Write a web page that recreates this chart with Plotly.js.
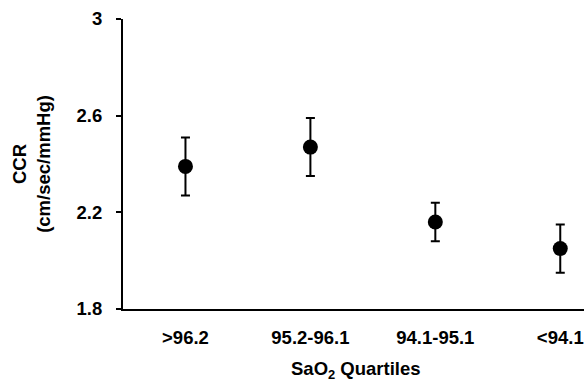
<!DOCTYPE html>
<html>
<head>
<meta charset="utf-8">
<script src="https://cdn.plot.ly/plotly-3.0.1.min.js"></script>
<style>html,body{margin:0;padding:0;background:#fff;}#chart{width:586px;height:383px;}</style>
</head>
<body>
<div id="chart"></div>
<script>
var categories = [">96.2", "95.2-96.1", "94.1-95.1", "<94.1"];
var ccrMean = [2.39, 2.47, 2.16, 2.05];
var errPlus = [0.12, 0.12, 0.08, 0.10];
var errMinus = [0.12, 0.12, 0.08, 0.10];
var yTicks = [1.8, 2.2, 2.6, 3];
var yTickLabels = ["1.8", "2.2", "2.6", "3"];
var xTitle = "SaO<sub>2</sub> Quartiles";
var yTitle = "CCR<br>(cm/sec/mmHg)";

var fam = "Liberation Sans, Arial, sans-serif";
var boldFont = {family: fam, size: 18.5, color: "#000", weight: "bold"};

var trace = {
  x: [0, 1, 2, 3],
  y: ccrMean,
  type: "scatter",
  mode: "markers",
  marker: {color: "#000", size: 15},
  error_y: {type: "data", symmetric: false, array: errPlus, arrayminus: errMinus, color: "#000", thickness: 2, width: 4.5},
  hoverinfo: "skip"
};

var layout = {
  width: 586, height: 383,
  margin: {l: 123, r: 2, t: 19, b: 74},
  paper_bgcolor: "#fff", plot_bgcolor: "#fff",
  showlegend: false,
  font: {family: fam, size: 18.5, color: "#000"},
  xaxis: {
    range: [-0.5, 3.19],
    tickvals: [0, 1, 2, 3],
    ticktext: categories,
    showline: true, linecolor: "#000", linewidth: 2,
    showgrid: false, zeroline: false,
    ticks: "",
    ticklabelstandoff: 11,
    tickfont: boldFont,
    fixedrange: true
  },
  yaxis: {
    range: [1.8, 3],
    tickvals: yTicks,
    ticktext: yTickLabels,
    showline: true, linecolor: "#000", linewidth: 2,
    showgrid: false, zeroline: false,
    ticks: "outside", ticklen: 5, tickwidth: 2, tickcolor: "#000",
    ticklabelstandoff: 10,
    tickfont: boldFont,
    title: {text: yTitle, font: boldFont, standoff: 21},
    fixedrange: true
  },
  annotations: [{
    text: xTitle, font: boldFont, showarrow: false,
    xref: "paper", yref: "paper", x: 0.505, y: -0.212,
    xanchor: "center", yanchor: "middle"
  }]
};

Plotly.newPlot("chart", [trace], layout, {displayModeBar: false, staticPlot: true});
</script>
</body>
</html>
